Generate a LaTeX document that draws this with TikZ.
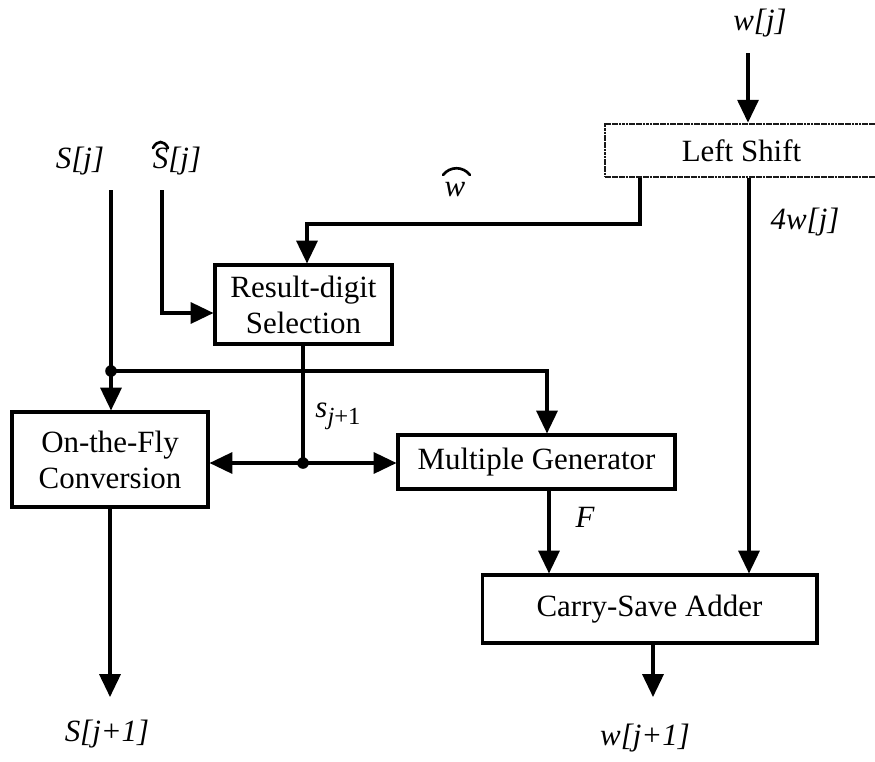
\documentclass[tikz,border=0pt]{standalone}
\usepackage{fontspec}
\setmainfont{Liberation Serif}
\usetikzlibrary{arrows.meta}

\tikzset{
  wire/.style={line width=1.75pt},
  arr/.style={wire, -{Triangle[length=13pt,width=12pt]}},
  blk/.style={draw, line width=1.75pt, inner sep=0pt, align=center,
              font=\fontsize{17.6}{20.5}\selectfont},
  grainy/.style={draw=black!90, line width=1.6pt, dash pattern=on 1.6pt off 0.35pt},
  lbl/.style={inner sep=0pt, font=\fontsize{17.6}{20.5}\selectfont\itshape},
  hat/.style={line width=1.5pt, line cap=round},
  dot/.style={fill=black}
}

\begin{document}
\begin{tikzpicture}[x=0.02cm, y=-0.02cm]
\useasboundingbox (0,0) rectangle (875,761);
\clip (0,0) rectangle (875,761);

% blocks
\node[blk, grainy, minimum width=5.46cm, minimum height=1.06cm] (ls) at (741.5,150.5) {Left Shift};
\node[blk, minimum width=3.54cm, minimum height=1.58cm] (rds) at (303.5,304.5) {Result-digit\\Selection};
\node[blk, minimum width=3.92cm, minimum height=1.9cm] (otf) at (110,459.5) {On-the-Fly\\Conversion};
\node[blk, minimum width=5.54cm, minimum height=1.08cm] (mg) at (536.5,462) {Multiple Generator};
\node[blk, minimum width=6.7cm, minimum height=1.36cm] (csa) at (649.5,609) {Carry-Save Adder};

% labels
\node[lbl] (wj) at (760,23) {w[j]};
\node[lbl] (fourwj) at (805,222) {4w[j]};
\node[lbl] (what) at (455,190) {w};
\node[lbl] (sj) at (80,161) {S[j]};
\node[lbl] (shj) at (177,161) {S[j]};
\node[lbl] (snext) at (338,416) {s\raisebox{-4pt}{\fontsize{14}{14}\selectfont j\upshape+1}};
\node[lbl] (flbl) at (585,517) {F};
\node[lbl] (sj1) at (107,734) {S[j+1]};
\node[lbl] (wj1) at (645,738) {w[j+1]};

% hat accents
\draw[hat] (443,175) .. controls (450,166) and (463,166) .. (470,175);
\draw[hat] (153,148) .. controls (157,140) and (164,140) .. (168,148);

% free ends and junctions
\coordinate (wjtop) at (748,53);
\coordinate (xa) at (640,0);
\coordinate (xb) at (749,0);
\coordinate (xc) at (547,0);
\coordinate (xf) at (549,0);
\coordinate (sjtop) at (111,190);
\coordinate (shtop) at (162,190);
\coordinate (jn1) at (111,371);
\coordinate (jn2) at (303,463);
\coordinate (sout) at (110,697);
\coordinate (wout) at (653,697);

% connectors
\draw[arr] (wjtop) -- (wjtop |- ls.north);
\draw[arr] (ls.south -| xa) |- (307,224) -- (307,224 |- rds.north);
\draw[arr] (ls.south -| xb) -- (csa.north -| xb);
\draw[wire] (sjtop) -- (jn1);
\draw[arr] (jn1) -- (jn1 |- otf.north);
\draw[arr] (jn1) -| (mg.north -| xc);
\draw[arr] (shtop) |- (rds.west |- 0,313);
\draw[wire] (rds.south -| jn2) -- (jn2);
\draw[arr] (jn2) -- (jn2 -| otf.east);
\draw[arr] (jn2) -- (jn2 -| mg.west);
\draw[arr] (otf.south -| sout) -- (sout);
\draw[arr] (mg.south -| xf) -- (csa.north -| xf);
\draw[arr] (csa.south -| wout) -- (wout);

\fill[dot] (jn1) circle (3.3pt);
\fill[dot] (jn2) circle (3.3pt);
\end{tikzpicture}
\end{document}
